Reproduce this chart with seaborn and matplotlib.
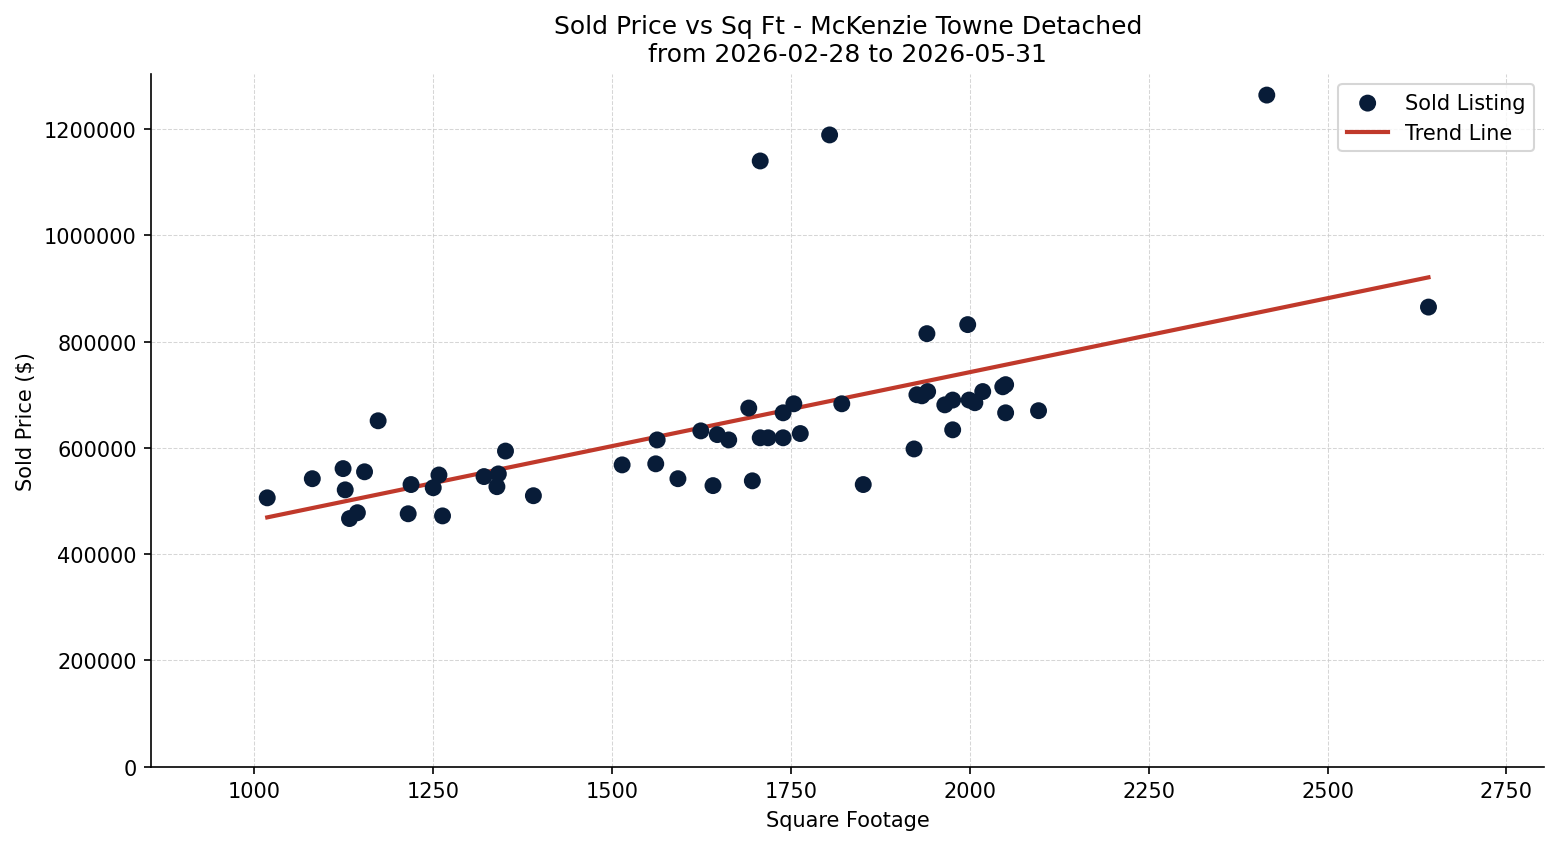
import numpy as np
import pandas as pd
import matplotlib
matplotlib.use("Agg")
import matplotlib.pyplot as plt
import seaborn as sns

# sold listings: square footage and sold price
sqft = [1018, 1081, 1124, 1127, 1133, 1144, 1154, 1173, 1215, 1219,
        1250, 1258, 1263, 1321, 1339, 1341, 1351, 1390,
        1514, 1561, 1563, 1592, 1624, 1641, 1647, 1663, 1691, 1696,
        1707, 1718, 1739, 1739, 1754, 1763, 1821, 1851,
        1940, 1997, 1926, 1933, 1941, 1965, 1976, 1976, 1999, 2007,
        2018, 2046, 2050, 2050, 2096, 1922,
        1707, 1804, 2415, 2641]
price = [506000, 542000, 561000, 521000, 467000, 478000, 555000, 651000, 476000, 531000,
         525000, 549000, 472000, 546000, 527000, 551000, 594000, 510000,
         568000, 570000, 615000, 542000, 632000, 529000, 625000, 615000, 675000, 538000,
         619000, 619000, 666000, 619000, 683000, 627000, 683000, 531000,
         815000, 832000, 700000, 698000, 706000, 681000, 690000, 634000, 690000, 685000,
         706000, 715000, 719000, 666000, 670000, 598000,
         1140000, 1189000, 1264000, 865000]

title_lines = ["Sold Price vs Sq Ft - McKenzie Towne Detached",
               "from 2026-02-28 to 2026-05-31"]

df = pd.DataFrame({"sqft": sqft, "price": price})

# linear trend over the sold listings
slope, intercept = np.polyfit(df["sqft"], df["price"], 1)
trend = pd.DataFrame({"sqft": [df["sqft"].min(), df["sqft"].max()]})
trend["price"] = slope * trend["sqft"] + intercept

plt.rcParams['font.family'] = ['DejaVu Sans']

fig, ax = plt.subplots(figsize=(10.4, 5.633), dpi=150)

sns.scatterplot(data=df, x="sqft", y="price", ax=ax, color="#081c38",
                s=66, edgecolor="none", label="Sold Listing", zorder=3)
sns.lineplot(data=trend, x="sqft", y="price", ax=ax, color="#c0392b",
             linewidth=2, label="Trend Line", zorder=2)

ax.set_xlim(856, 2803)
ax.set_ylim(0, 1304000)
ax.ticklabel_format(axis="y", style="plain", useOffset=False)

ax.set_title("\n".join(title_lines), fontsize=12)
ax.set_xlabel("Square Footage", fontsize=10)
ax.set_ylabel("Sold Price ($)", fontsize=10)
ax.tick_params(labelsize=10)
ax.grid(True, linestyle="--", linewidth=0.5, color="#cccccc", alpha=0.8)
ax.set_axisbelow(True)
sns.despine(ax=ax)
ax.legend(loc="upper right", fontsize=10)

fig.subplots_adjust(left=0.097, right=0.990, top=0.9115, bottom=0.0915)
fig.savefig("out.png", dpi=150)
